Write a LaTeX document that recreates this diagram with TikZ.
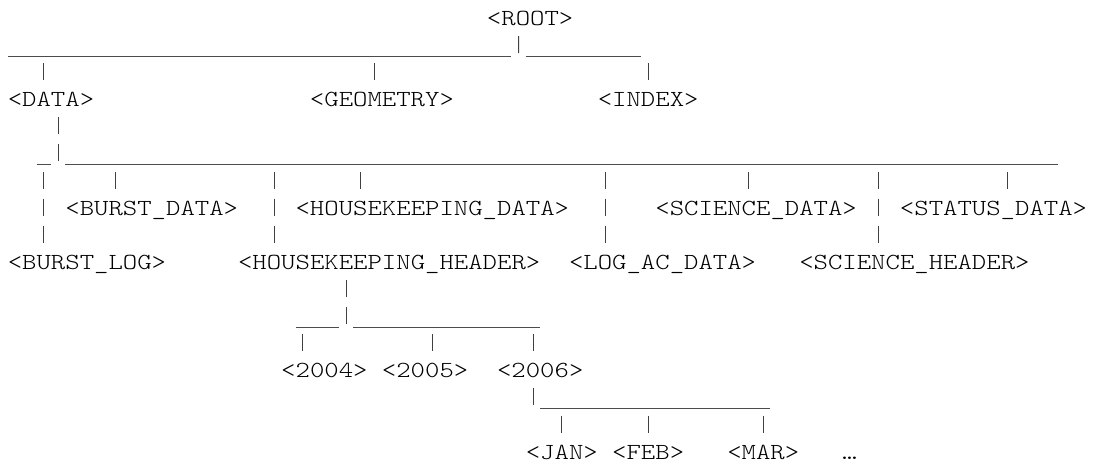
\documentclass[tikz,border=0pt]{standalone}
\usepackage{fontspec}
\newfontfamily\treefont{lmmonolt10-regular.otf}[FakeStretch=1.192]
\usepackage{tikz}
\tikzset{
  tag/.style={anchor=base west,inner sep=0pt,outer sep=0pt,
              font=\treefont\fontsize{23}{27}\selectfont},
  stem/.style={draw=black!75,line width=0.9pt,dash pattern=on 17pt off 10.1pt},
  rail/.style={draw=black!70,line width=0.9pt},
}

\begin{document}
\begin{tikzpicture}[x=14.39pt,y=-27.1pt]
  \useasboundingbox (-0.542,-0.941) rectangle (75.483,16.255);

  %% ── Nodes (column / row grid) ──────────────────────────────────────────
  \node[tag] (root)       at (33.3,0) {<ROOT>};
  \node[tag] (data)       at (0,3)    {<DATA>};
  \node[tag] (geometry)   at (21,3)   {<GEOMETRY>};
  \node[tag] (index)      at (41,3)   {<INDEX>};
  \node[tag] (burstdata)  at (4,7)    {<BURST\_DATA>};
  \node[tag] (hkdata)     at (20,7)   {<HOUSEKEEPING\_DATA>};
  \node[tag] (scidata)    at (45,7)   {<SCIENCE\_DATA>};
  \node[tag] (statusdata) at (62,7)   {<STATUS\_DATA>};
  \node[tag] (burstlog)   at (0,9)    {<BURST\_LOG>};
  \node[tag] (hkheader)   at (16,9)   {<HOUSEKEEPING\_HEADER>};
  \node[tag] (logac)      at (39,9)   {<LOG\_AC\_DATA>};
  \node[tag] (sciheader)  at (55,9)   {<SCIENCE\_HEADER>};
  \node[tag] (y2004)      at (19,13)  {<2004>};
  \node[tag] (y2005)      at (26,13)  {<2005>};
  \node[tag] (y2006)      at (34,13)  {<2006>};
  \node[tag] (jan)        at (36,16)  {<JAN>};
  \node[tag] (feb)        at (42,16)  {<FEB>};
  \node[tag] (mar)        at (50,16)  {<MAR>};
  \node[tag] (more)       at (58,16)  {…};

  %% ── Junctions ───────────────────────────────────────────────────────────
  \coordinate (rootj) at (35.5,1.02);
  \coordinate (r1w) at (0,1.14);   \coordinate (r1m) at (35,1.14);
  \coordinate (r1n) at (36,1.14);  \coordinate (r1e) at (44,1.14);
  \coordinate (dataj) at (2.5,1.391);
  \coordinate (geomj) at (25.5,1.391);
  \coordinate (indexj) at (44.5,1.391);

  \coordinate (dataout) at (3.5,5.02);
  \coordinate (r5w) at (2,5.14);   \coordinate (r5m) at (3,5.14);
  \coordinate (r5n) at (4,5.14);   \coordinate (r5e) at (73,5.14);
  \coordinate (blj) at (2.5,5.391);
  \coordinate (bdj) at (7.5,5.391);
  \coordinate (hhj) at (18.5,5.391);
  \coordinate (hdj) at (24.5,5.391);
  \coordinate (laj) at (41.5,5.391);
  \coordinate (sdj) at (51.5,5.391);
  \coordinate (shj) at (60.5,5.391);
  \coordinate (stj) at (69.5,5.391);

  \coordinate (hhout) at (23.5,11.02);
  \coordinate (r11w) at (20,11.14); \coordinate (r11m) at (23,11.14);
  \coordinate (r11n) at (24,11.14); \coordinate (r11e) at (37,11.14);
  \coordinate (y4j) at (20.5,11.391);
  \coordinate (y5j) at (29.5,11.391);
  \coordinate (y6j) at (36.5,11.391);

  \coordinate (y6out) at (36.5,14.02);
  \coordinate (r14w) at (37,14.14); \coordinate (r14e) at (53,14.14);
  \coordinate (janj) at (38.5,14.391);
  \coordinate (febj) at (44.5,14.391);
  \coordinate (marj) at (52.5,14.391);

  %% ── Rails (the underscore lines) ────────────────────────────────────────
  \draw[rail] (r1w) -- (r1m) (r1n) -- (r1e);
  \draw[rail] (r5w) -- (r5m) (r5n) -- (r5e);
  \draw[rail] (r11w) -- (r11m) (r11n) -- (r11e);
  \draw[rail] (r14w) -- (r14e);

  %% ── Stems (the | marks) ─────────────────────────────────────────────────
  \draw[stem] ([shift={(2.2,0.391)}]root.base west) -- (rootj);
  \draw[stem] (dataj)  -- ([shift={(2.5,-0.98)}]data.base west);
  \draw[stem] (geomj)  -- ([shift={(4.5,-0.98)}]geometry.base west);
  \draw[stem] (indexj) -- ([shift={(3.5,-0.98)}]index.base west);

  \draw[stem] ([shift={(3.5,0.391)}]data.base west) -- (dataout);
  \draw[stem] (blj) -- ([shift={(2.5,-0.98)}]burstlog.base west);
  \draw[stem] (bdj) -- ([shift={(3.5,-0.98)}]burstdata.base west);
  \draw[stem] (hhj) -- ([shift={(2.5,-0.98)}]hkheader.base west);
  \draw[stem] (hdj) -- ([shift={(4.5,-0.98)}]hkdata.base west);
  \draw[stem] (laj) -- ([shift={(2.5,-0.98)}]logac.base west);
  \draw[stem] (sdj) -- ([shift={(6.5,-0.98)}]scidata.base west);
  \draw[stem] (shj) -- ([shift={(5.5,-0.98)}]sciheader.base west);
  \draw[stem] (stj) -- ([shift={(7.5,-0.98)}]statusdata.base west);

  \draw[stem] ([shift={(7.5,0.391)}]hkheader.base west) -- (hhout);
  \draw[stem] (y4j) -- ([shift={(1.5,-0.98)}]y2004.base west);
  \draw[stem] (y5j) -- ([shift={(3.5,-0.98)}]y2005.base west);
  \draw[stem] (y6j) -- ([shift={(2.5,-0.98)}]y2006.base west);

  \draw[stem] ([shift={(2.5,0.391)}]y2006.base west) -- (y6out);
  \draw[stem] (janj) -- ([shift={(2.5,-0.98)}]jan.base west);
  \draw[stem] (febj) -- ([shift={(2.5,-0.98)}]feb.base west);
  \draw[stem] (marj) -- ([shift={(2.5,-0.98)}]mar.base west);
\end{tikzpicture}
\end{document}
